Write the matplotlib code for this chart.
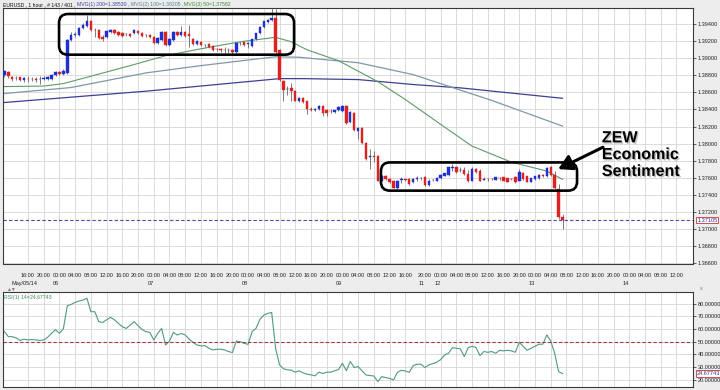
import numpy as np
import matplotlib
matplotlib.use("Agg")
import matplotlib.pyplot as plt
import matplotlib.patheffects as pe
from matplotlib.patches import FancyBboxPatch
from matplotlib.transforms import blended_transform_factory, IdentityTransform

plt.rcParams['font.family'] = ['Liberation Sans', 'DejaVu Sans']

# EURUSD 1 hour bars, May/05/14 10:00 .. May/13/14 06:00 (bar index 0..142)
opens = [1.38799, 1.38838, 1.38775, 1.38763, 1.38775, 1.38740, 1.38760, 1.38757, 1.38752, 1.38754,
         1.38760, 1.38760, 1.38760, 1.38799, 1.38842, 1.38810, 1.38830, 1.39214, 1.39272, 1.39272,
         1.39353, 1.39377, 1.39429, 1.39330, 1.39330, 1.39249, 1.39249, 1.39307, 1.39330, 1.39307,
         1.39295, 1.39284, 1.39284, 1.39295, 1.39318, 1.39295, 1.39272, 1.39272, 1.39249, 1.39179,
         1.39208, 1.39307, 1.39156, 1.39214, 1.39307, 1.39272, 1.39307, 1.39284, 1.39225, 1.39167,
         1.39191, 1.39156, 1.39167, 1.39138, 1.39109, 1.39103, 1.39097, 1.39097, 1.39097, 1.39068,
         1.39173, 1.39185, 1.39167, 1.39138, 1.39220, 1.39289, 1.39359, 1.39417, 1.39441, 1.39464,
         1.39097, 1.38729, 1.38638, 1.38656, 1.38613, 1.38496, 1.38539, 1.38496, 1.38400, 1.38396,
         1.38400, 1.38435, 1.38388, 1.38382, 1.38368, 1.38392, 1.38380, 1.38438, 1.38252, 1.38353,
         1.38147, 1.38179, 1.38004, 1.37841, 1.37853, 1.37857, 1.37566, 1.37624, 1.37591, 1.37566,
         1.37481, 1.37577, 1.37582, 1.37586, 1.37551, 1.37589, 1.37594, 1.37615, 1.37516, 1.37574,
         1.37568, 1.37597, 1.37626, 1.37632, 1.37719, 1.37722, 1.37690, 1.37694, 1.37644, 1.37562,
         1.37702, 1.37679, 1.37580, 1.37586, 1.37586, 1.37577, 1.37597, 1.37605, 1.37594, 1.37586,
         1.37605, 1.37566, 1.37655, 1.37617, 1.37554, 1.37586, 1.37594, 1.37632, 1.37617, 1.37722,
         1.37632, 1.37469, 1.37144]
highs = [1.38865, 1.38853, 1.38789, 1.38789, 1.38783, 1.38783, 1.38787, 1.38778, 1.38783, 1.38787,
         1.38789, 1.38795, 1.38813, 1.38853, 1.38853, 1.38871, 1.39225, 1.39307, 1.39307, 1.39365,
         1.39412, 1.39505, 1.39446, 1.39353, 1.39342, 1.39272, 1.39330, 1.39342, 1.39342, 1.39318,
         1.39307, 1.39295, 1.39295, 1.39342, 1.39330, 1.39307, 1.39284, 1.39284, 1.39260, 1.39249,
         1.39318, 1.39318, 1.39237, 1.39318, 1.39318, 1.39377, 1.39318, 1.39388, 1.39237, 1.39214,
         1.39202, 1.39167, 1.39179, 1.39156, 1.39121, 1.39121, 1.39132, 1.39121, 1.39109, 1.39179,
         1.39191, 1.39191, 1.39191, 1.39225, 1.39295, 1.39377, 1.39435, 1.39458, 1.39586, 1.39574,
         1.39109, 1.38749, 1.38679, 1.38714, 1.38632, 1.38551, 1.38551, 1.38504, 1.38423, 1.38417,
         1.38446, 1.38446, 1.38400, 1.38400, 1.38394, 1.38440, 1.38452, 1.38452, 1.38376, 1.38365,
         1.38190, 1.38190, 1.38016, 1.37934, 1.37911, 1.37871, 1.37632, 1.37638, 1.37603, 1.37574,
         1.37574, 1.37615, 1.37591, 1.37597, 1.37597, 1.37620, 1.37615, 1.37626, 1.37586, 1.37586,
         1.37615, 1.37644, 1.37661, 1.37737, 1.37760, 1.37737, 1.37725, 1.37725, 1.37690, 1.37725,
         1.37719, 1.37702, 1.37609, 1.37603, 1.37603, 1.37615, 1.37609, 1.37615, 1.37603, 1.37601,
         1.37620, 1.37702, 1.37673, 1.37626, 1.37603, 1.37626, 1.37644, 1.37644, 1.37725, 1.37737,
         1.37679, 1.37527, 1.37179]
lows = [1.38783, 1.38772, 1.38729, 1.38743, 1.38737, 1.38725, 1.38722, 1.38731, 1.38720, 1.38702,
        1.38743, 1.38749, 1.38749, 1.38789, 1.38801, 1.38801, 1.38818, 1.39202, 1.39249, 1.39260,
        1.39342, 1.39365, 1.39318, 1.39249, 1.39225, 1.39202, 1.39237, 1.39295, 1.39284, 1.39260,
        1.39249, 1.39260, 1.39249, 1.39284, 1.39284, 1.39249, 1.39249, 1.39237, 1.39167, 1.39167,
        1.39202, 1.39144, 1.39144, 1.39202, 1.39260, 1.39260, 1.39249, 1.39132, 1.39156, 1.39156,
        1.39144, 1.39132, 1.39121, 1.39086, 1.39086, 1.39074, 1.39063, 1.39063, 1.39051, 1.39063,
        1.39156, 1.39144, 1.39121, 1.39132, 1.39214, 1.39284, 1.39353, 1.39412, 1.39435, 1.39063,
        1.38737, 1.38496, 1.38574, 1.38496, 1.38493, 1.38481, 1.38475, 1.38342, 1.38376, 1.38382,
        1.38388, 1.38322, 1.38322, 1.38359, 1.38359, 1.38382, 1.38371, 1.38231, 1.38237, 1.38150,
        1.38051, 1.37993, 1.37807, 1.37702, 1.37783, 1.37557, 1.37557, 1.37580, 1.37545, 1.37477,
        1.37475, 1.37545, 1.37568, 1.37521, 1.37539, 1.37568, 1.37574, 1.37510, 1.37510, 1.37562,
        1.37562, 1.37591, 1.37620, 1.37626, 1.37684, 1.37655, 1.37673, 1.37632, 1.37551, 1.37557,
        1.37655, 1.37562, 1.37574, 1.37568, 1.37574, 1.37574, 1.37580, 1.37562, 1.37551, 1.37574,
        1.37545, 1.37562, 1.37580, 1.37551, 1.37551, 1.37580, 1.37589, 1.37609, 1.37609, 1.37620,
        1.37469, 1.37120, 1.37004]
closes = [1.38845, 1.38787, 1.38757, 1.38772, 1.38749, 1.38772, 1.38757, 1.38753, 1.38749, 1.38757,
          1.38766, 1.38778, 1.38799, 1.38834, 1.38810, 1.38853, 1.39214, 1.39272, 1.39284, 1.39353,
          1.39388, 1.39429, 1.39330, 1.39324, 1.39237, 1.39225, 1.39318, 1.39330, 1.39295, 1.39272,
          1.39260, 1.39278, 1.39260, 1.39330, 1.39295, 1.39260, 1.39266, 1.39249, 1.39179, 1.39237,
          1.39307, 1.39150, 1.39220, 1.39307, 1.39272, 1.39307, 1.39260, 1.39260, 1.39167, 1.39202,
          1.39156, 1.39150, 1.39132, 1.39097, 1.39103, 1.39097, 1.39092, 1.39092, 1.39068, 1.39173,
          1.39179, 1.39156, 1.39173, 1.39220, 1.39289, 1.39365, 1.39429, 1.39446, 1.39464, 1.39074,
          1.38749, 1.38632, 1.38644, 1.38613, 1.38496, 1.38539, 1.38485, 1.38400, 1.38396, 1.38406,
          1.38435, 1.38361, 1.38361, 1.38380, 1.38396, 1.38431, 1.38438, 1.38237, 1.38365, 1.38159,
          1.38179, 1.38004, 1.37818, 1.37857, 1.37847, 1.37566, 1.37624, 1.37589, 1.37551, 1.37481,
          1.37566, 1.37582, 1.37577, 1.37527, 1.37591, 1.37593, 1.37603, 1.37516, 1.37568, 1.37577,
          1.37603, 1.37632, 1.37655, 1.37722, 1.37722, 1.37664, 1.37696, 1.37644, 1.37562, 1.37702,
          1.37667, 1.37566, 1.37591, 1.37582, 1.37582, 1.37605, 1.37594, 1.37566, 1.37554, 1.37582,
          1.37547, 1.37664, 1.37586, 1.37554, 1.37594, 1.37617, 1.37632, 1.37617, 1.37710, 1.37632,
          1.37477, 1.37144, 1.37105]

# RSI(14) per bar
rsi = [58.0, 54.0, 54.0, 53.0, 51.0, 52.0, 51.4, 51.7, 51.4, 51.0,
       51.4, 53.5, 56.7, 59.5, 56.7, 60.2, 78.6, 79.6, 81.2, 82.3,
       83.1, 84.4, 73.8, 73.8, 65.9, 65.3, 67.4, 69.3, 67.4, 64.5,
       61.9, 60.5, 63.2, 65.9, 62.7, 59.7, 57.9, 57.4, 51.3, 56.6,
       60.5, 47.4, 50.5, 57.4, 55.3, 56.6, 55.3, 52.1, 49.5, 47.4,
       46.6, 46.9, 44.8, 43.5, 44.0, 44.0, 43.5, 42.2, 41.4, 50.5,
       50.0, 48.7, 47.9, 57.9, 60.5, 67.7, 71.1, 72.4, 73.2, 44.8,
       31.6, 28.5, 27.7, 27.4, 25.8, 26.9, 25.3, 24.2, 23.7, 22.9,
       25.8, 24.8, 25.8, 25.8, 26.9, 27.9, 32.9, 26.9, 34.3, 29.5,
       30.3, 26.8, 23.6, 23.1, 22.8, 18.3, 22.3, 21.5, 20.9, 19.6,
       25.7, 27.3, 26.8, 25.7, 31.0, 32.1, 32.1, 29.4, 31.6, 32.6,
       33.7, 35.8, 39.5, 40.8, 45.3, 44.8, 44.3, 38.2, 45.3, 46.4,
       45.3, 39.0, 42.2, 41.6, 42.2, 40.8, 43.2, 42.7, 43.2, 42.7,
       41.6, 49.6, 46.2, 43.2, 44.8, 46.4, 48.0, 48.0, 55.4, 50.6,
       40.8, 26.3, 24.67743]

# moving averages, read at a few bars
ma50_idx = [0, 10, 15, 24, 32, 41, 50, 60, 69, 73, 77, 85, 95, 102, 111, 119, 129, 138, 142]
ma50_val = [1.38667, 1.38673, 1.38702, 1.38813, 1.38912, 1.39028, 1.39109, 1.39191, 1.39243, 1.39191,
            1.39097, 1.38970, 1.38725, 1.38516, 1.38225, 1.37970, 1.37783, 1.37679, 1.37582]
ma100_idx = [0, 17, 36, 50, 69, 75, 90, 104, 124, 142]
ma100_val = [1.38586, 1.38656, 1.38827, 1.38912, 1.39016, 1.39010, 1.38946, 1.38807, 1.38505, 1.38205]
ma200_idx = [0, 36, 70, 76, 90, 104, 116, 142]
ma200_val = [1.38481, 1.38613, 1.38760, 1.38760, 1.38749, 1.38691, 1.38652, 1.38530]

last_price = 1.37105
last_rsi = 24.67743

tick_idx = [6, 10, 14, 18, 22, 26, 30, 34, 38, 42, 46, 50, 54, 58, 62, 66, 70, 74, 78, 82, 86,
            90, 94, 98, 102, 107, 111, 115, 119, 123, 127, 131, 135, 139, 143, 147, 151, 155,
            159, 163, 167, 171]
tick_lbl = ['16:00', '20:00', '00:00', '04:00', '08:00', '12:00'] * 4 + ['16:00'] + \
           ['20:00', '00:00', '04:00', '08:00', '12:00', '16:00'] * 2 + \
           ['20:00', '00:00', '04:00', '08:00', '12:00']
day_idx = [6, 14, 38, 62, 86, 107, 111, 135, 159]
day_lbl = ['May/05/14', '06', '07', '08', '09', '11', '12', '13', '14']

W, H = 720, 390
fig = plt.figure(figsize=(W / 100, H / 100), dpi=100, facecolor='#ededed')


def px_rect(x0, top, x1, bottom):
    return [x0 / W, 1 - bottom / H, (x1 - x0) / W, (bottom - top) / H]


ax = fig.add_axes(px_rect(3, 8, 693, 263.5))
ax2 = fig.add_axes(px_rect(3, 292.3, 693, 387), sharex=ax)

blue, red, grey = '#2030d0', '#dd2222', '#555555'
c_ma50, c_ma100, c_ma200 = '#5e9a6a', '#7f98a6', '#3f3f8f'

# candles
o = np.array(opens); c = np.array(closes)
x = np.arange(len(o))
cols = np.where(c > o, blue, np.where(c < o, red, grey))
ax.vlines(x, lows, highs, color='#666666', lw=0.6, zorder=3)
ax.bar(x, np.maximum(np.abs(c - o), 0.00003), bottom=np.minimum(o, c), width=0.62,
       color=cols, edgecolor=cols, lw=0.3, zorder=4)

ax.plot(ma200_idx, ma200_val, color=c_ma200, lw=0.9, zorder=2)
ax.plot(ma100_idx, ma100_val, color=c_ma100, lw=0.9, zorder=2)
ax.plot(ma50_idx, ma50_val, color=c_ma50, lw=0.8, zorder=2)
ax.axhline(last_price, color='#4a4aa8', ls=(0, (3, 2)), lw=0.8, zorder=2)

ax.set_xlim(-0.36, 175.2)
ax.set_ylim(1.36598, 1.39586)
ax.set_facecolor('white')
ax.yaxis.tick_right()
yt = np.round(np.arange(1.366, 1.3941, 0.002), 3)
ax.set_yticks(yt)
ax.set_yticklabels(['%.5f' % v for v in yt])
ax.set_xticks(tick_idx)
ax.set_xticklabels(tick_lbl)
ax.tick_params(axis='x', length=0, pad=7, labelsize=4.0, colors='#222222')
ax.tick_params(axis='y', length=2.5, width=0.5, pad=1, labelsize=4.0, colors='#222222')
ax.grid(color='#d6d6d6', lw=0.6)
ax.set_axisbelow(True)
for s in ax.spines.values():
    s.set_color('#3a3a3a'); s.set_linewidth(0.8)

trans_d = blended_transform_factory(ax.transData, ax.transAxes)
for i, lbl in zip(day_idx, day_lbl):
    ax.text(i - 0.8, -0.08, lbl, transform=trans_d, ha='center', va='center',
            fontsize=4.0, color='#222222')

trans_y = blended_transform_factory(ax.transAxes, ax.transData)
ax.text(1.006, last_price, '%.5f' % last_price, transform=trans_y, ha='left', va='center',
        fontsize=4.0, color='#3030a0',
        bbox=dict(boxstyle='square,pad=0.15', fc='white', ec='#cc3333', lw=0.6))

# RSI panel
ax2.plot(x, rsi, color='#4f9a80', lw=0.8)
ax2.axhline(50, color='#a03a3a', ls=(0, (3, 2)), lw=0.8)
ax2.set_ylim(14.05, 89.2)
ax2.set_facecolor('white')
ax2.yaxis.tick_right()
rt = np.arange(20, 81, 10)
ax2.set_yticks(rt)
ax2.set_yticklabels(['%.5f' % v for v in rt])
ax2.tick_params(axis='x', length=0, labelbottom=False)
ax2.tick_params(axis='y', length=2.5, width=0.5, pad=1, labelsize=4.0, colors='#222222')
ax2.grid(color='#d6d6d6', lw=0.6)
ax2.set_axisbelow(True)
for s in ax2.spines.values():
    s.set_color('#3a3a3a'); s.set_linewidth(0.8)
trans_r = blended_transform_factory(ax2.transAxes, ax2.transData)
ax2.text(1.006, last_rsi, '%.5f' % last_rsi, transform=trans_r, ha='left', va='center',
         fontsize=4.0, color='#3030a0',
         bbox=dict(boxstyle='square,pad=0.15', fc='white', ec='#cc3333', lw=0.6))
ax2.text(0.002, 0.97, 'RSI(1) 14=%.5f' % last_rsi, transform=ax2.transAxes, ha='left', va='top',
         fontsize=3.8, color='#3a8a5a')

# header, pieces placed one after another
hy = 1 - 4.5 / H
renderer = fig.canvas.get_renderer()
hx = 3.0
for txt, col in [('EURUSD , 1 hour , # 143 / 401 ,', '#111111'),
                 ('MVG(1) 200=1.38530 ,', '#3f3f9f'),
                 ('MVG(2) 100=1.38205 ,', '#4f7f9a'),
                 ('MVG(3) 50=1.37582', '#3a8a3a')]:
    t = fig.text(hx / W, hy, txt, fontsize=3.7, va='center', color=col)
    hx = t.get_window_extent(renderer).x1 + 1.5
fig.text(6 / W, 1 - 289.5 / H, '\u25b2\u25bc', fontsize=3.5, va='center', color='#777777')
fig.text(700 / W, 1 - 289 / H, 'x', fontsize=4, va='center', color='#777777')

# annotation: rounded boxes around consolidations
def rbox(n0, p0, n1, p1):
    (X0, Y0), (X1, Y1) = ax.transData.transform([(n0, p0), (n1, p1)])
    patch = FancyBboxPatch((X0, Y0), X1 - X0, Y1 - Y0,
                           boxstyle='round,pad=0,rounding_size=9',
                           transform=IdentityTransform(), fc='none', ec='black', lw=1.9,
                           zorder=10)
    fig.add_artist(patch)


rbox(13.9, 1.39040, 73.7, 1.39516)
rbox(95.8, 1.37450, 145.7, 1.37780)

ax.annotate('', xy=(140.9, 1.37702), xytext=(152.3, 1.37958),
            arrowprops=dict(arrowstyle='-|>,head_length=0.7,head_width=0.4', lw=2.2,
                            color='black', shrinkA=0, shrinkB=0, mutation_scale=12),
            zorder=11)
ax.text(152.0, 1.38156, 'ZEW\nEconomic\nSentiment', ha='left', va='top', fontsize=11.6,
        fontweight='bold', color='black', linespacing=1.15, zorder=11,
        path_effects=[pe.SimplePatchShadow(offset=(1.0, -1.0), shadow_rgbFace='#999999', alpha=0.6),
                      pe.Normal()])

fig.savefig('out.png', dpi=100, facecolor=fig.get_facecolor())
